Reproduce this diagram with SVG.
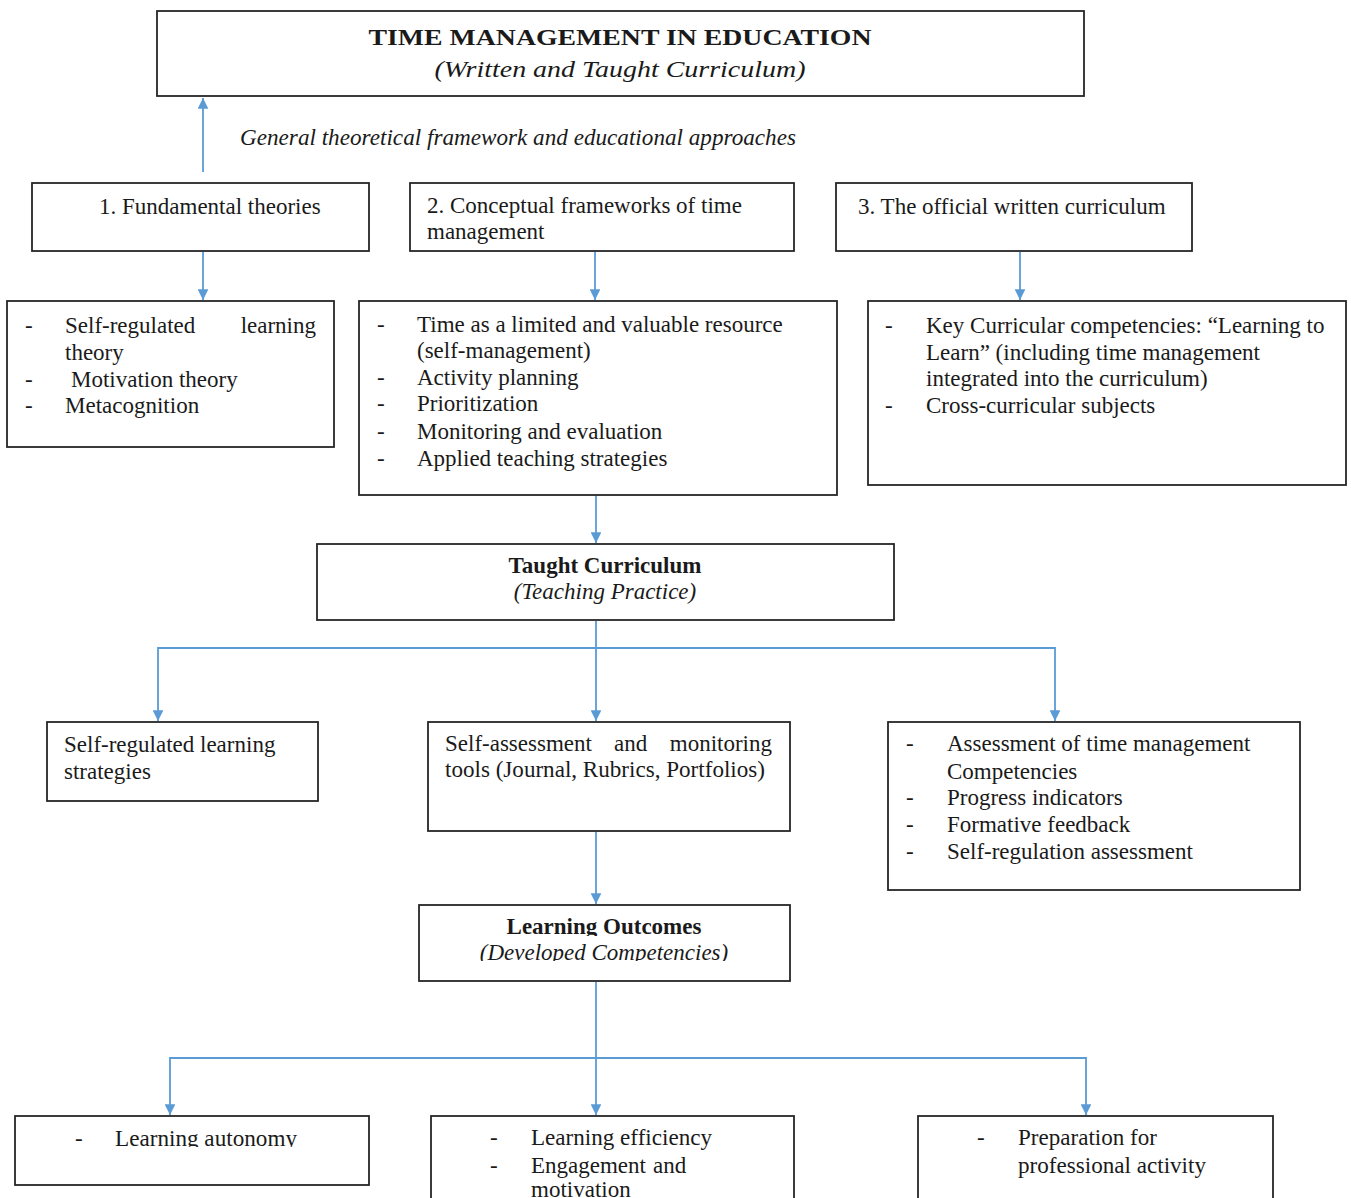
<svg xmlns="http://www.w3.org/2000/svg" width="1351" height="1198" viewBox="0 0 1351 1198">
<style>
.box{fill:#fff;stroke:#262626;stroke-width:1.8}
.t{font-family:"Liberation Serif","Times New Roman",serif;font-size:23px;fill:#1a1a1a}
.b{font-weight:bold}
.i{font-style:italic}
.c{text-anchor:middle}
.e{text-anchor:end}
.con{fill:none;stroke:#5B9BD5;stroke-width:1.8}
.arr{fill:none;stroke:#5B9BD5;stroke-width:1.8;marker-end:url(#ah)}
</style>
<defs>
<marker id="ah" viewBox="0 0 10 10" refX="10" refY="5" markerWidth="6" markerHeight="6" markerUnits="strokeWidth" orient="auto">
<path d="M0,0 L10,5 L0,10 z" fill="#5B9BD5"/>
</marker>
<clipPath id="cl1"><rect x="419" y="905" width="371" height="31"/></clipPath>
<clipPath id="cl2"><rect x="419" y="940" width="371" height="21"/></clipPath>
<clipPath id="cl3"><rect x="15" y="1116" width="354" height="31"/></clipPath>
</defs>
<rect width="1351" height="1198" fill="#fff"/>

<g id="connectors">
<line class="arr" x1="203" y1="172" x2="203" y2="98"/>
<line class="arr" x1="203" y1="252" x2="203" y2="300"/>
<line class="arr" x1="595" y1="252" x2="595" y2="300"/>
<line class="arr" x1="1020" y1="252" x2="1020" y2="300"/>
<line class="arr" x1="596" y1="496" x2="596" y2="543"/>
<line class="arr" x1="596" y1="621" x2="596" y2="721"/>
<polyline class="arr" points="596,648 158,648 158,721"/>
<polyline class="arr" points="596,648 1055,648 1055,721"/>
<line class="arr" x1="596" y1="832" x2="596" y2="904"/>
<line class="arr" x1="596" y1="982" x2="596" y2="1115"/>
<polyline class="arr" points="596,1058 170,1058 170,1115"/>
<polyline class="arr" points="596,1058 1086,1058 1086,1115"/>
</g>

<g id="title">
<rect class="box" x="157" y="11" width="927" height="85"/>
<text class="t b c" x="620" y="45" font-size="29" textLength="503" lengthAdjust="spacingAndGlyphs">TIME MANAGEMENT IN EDUCATION</text>
<text class="t i c" x="620" y="77" font-size="27" textLength="371" lengthAdjust="spacingAndGlyphs">(Written and Taught Curriculum)</text>
</g>

<g id="framework-label">
<text class="t i" x="240" y="145" font-size="22" textLength="556" lengthAdjust="spacingAndGlyphs">General theoretical framework and educational approaches</text>
</g>

<g id="n1">
<rect class="box" x="32" y="183" width="337" height="68"/>
<text class="t" x="99" y="214">1. Fundamental theories</text>
</g>

<g id="n2">
<rect class="box" x="410" y="183" width="384" height="68"/>
<text class="t" x="427" y="213">2. Conceptual frameworks of time</text>
<text class="t" x="427" y="239">management</text>
</g>

<g id="n3">
<rect class="box" x="836" y="183" width="356" height="68"/>
<text class="t" x="858" y="214">3. The official written curriculum</text>
</g>

<g id="n1a">
<rect class="box" x="7" y="301" width="327" height="146"/>
<text class="t" x="25" y="333">-</text>
<text class="t" x="65" y="333">Self-regulated</text>
<text class="t e" x="316" y="333">learning</text>
<text class="t" x="65" y="360">theory</text>
<text class="t" x="25" y="387">-</text>
<text class="t" x="71" y="387">Motivation theory</text>
<text class="t" x="25" y="413">-</text>
<text class="t" x="65" y="413">Metacognition</text>
</g>

<g id="n2a">
<rect class="box" x="359" y="301" width="478" height="194"/>
<text class="t" x="377" y="332">-</text>
<text class="t" x="417" y="332">Time as a limited and valuable resource</text>
<text class="t" x="417" y="358">(self-management)</text>
<text class="t" x="377" y="385">-</text>
<text class="t" x="417" y="385">Activity planning</text>
<text class="t" x="377" y="411">-</text>
<text class="t" x="417" y="411">Prioritization</text>
<text class="t" x="377" y="439">-</text>
<text class="t" x="417" y="439">Monitoring and evaluation</text>
<text class="t" x="377" y="466">-</text>
<text class="t" x="417" y="466">Applied teaching strategies</text>
</g>

<g id="n3a">
<rect class="box" x="868" y="301" width="478" height="184"/>
<text class="t" x="885" y="333">-</text>
<text class="t" x="926" y="333">Key Curricular competencies: “Learning to</text>
<text class="t" x="926" y="360">Learn” (including time management</text>
<text class="t" x="926" y="386">integrated into the curriculum)</text>
<text class="t" x="885" y="413">-</text>
<text class="t" x="926" y="413">Cross-curricular subjects</text>
</g>

<g id="taught">
<rect class="box" x="317" y="544" width="577" height="76"/>
<text class="t b c" x="605" y="573" font-size="22">Taught Curriculum</text>
<text class="t i c" x="605" y="599" font-size="22">(Teaching Practice)</text>
</g>

<g id="srl">
<rect class="box" x="47" y="722" width="271" height="79"/>
<text class="t" x="64" y="752" font-size="22">Self-regulated learning</text>
<text class="t" x="64" y="779" font-size="22">strategies</text>
</g>

<g id="selfassess">
<rect class="box" x="428" y="722" width="362" height="109"/>
<text class="t" x="445" y="751" font-size="22">Self-assessment</text>
<text class="t" x="614" y="751" font-size="22">and</text>
<text class="t e" x="772" y="751" font-size="22">monitoring</text>
<text class="t" x="445" y="777" font-size="22" textLength="320" lengthAdjust="spacingAndGlyphs">tools (Journal, Rubrics, Portfolios)</text>
</g>

<g id="assess">
<rect class="box" x="888" y="722" width="412" height="168"/>
<text class="t" x="906" y="751">-</text>
<text class="t" x="947" y="751">Assessment of time management</text>
<text class="t" x="947" y="779">Competencies</text>
<text class="t" x="906" y="805">-</text>
<text class="t" x="947" y="805">Progress indicators</text>
<text class="t" x="906" y="832">-</text>
<text class="t" x="947" y="832">Formative feedback</text>
<text class="t" x="906" y="859">-</text>
<text class="t" x="947" y="859">Self-regulation assessment</text>
</g>

<g id="outcomes">
<rect class="box" x="419" y="905" width="371" height="76"/>
<text class="t b c" x="604" y="934" font-size="22" clip-path="url(#cl1)">Learning Outcomes</text>
<text class="t i c" x="604" y="960" font-size="22" clip-path="url(#cl2)">(Developed Competencies)</text>
</g>

<g id="autonomy">
<rect class="box" x="15" y="1116" width="354" height="69"/>
<text class="t" x="75" y="1146" font-size="22">-</text>
<text class="t" x="115" y="1146" font-size="22" textLength="182" lengthAdjust="spacingAndGlyphs" clip-path="url(#cl3)">Learning autonomy</text>
</g>

<g id="efficiency">
<rect class="box" x="431" y="1116" width="363" height="100"/>
<text class="t" x="490" y="1145" font-size="22">-</text>
<text class="t" x="531" y="1145" font-size="22" textLength="181" lengthAdjust="spacingAndGlyphs">Learning efficiency</text>
<text class="t" x="490" y="1173" font-size="22">-</text>
<text class="t" x="531" y="1173" font-size="22">Engagement</text>
<text class="t" x="653" y="1173" font-size="22">and</text>
<text class="t" x="531" y="1197" font-size="22">motivation</text>
</g>

<g id="professional">
<rect class="box" x="918" y="1116" width="355" height="100"/>
<text class="t" x="977" y="1145" font-size="22">-</text>
<text class="t" x="1018" y="1145" font-size="22" textLength="139" lengthAdjust="spacingAndGlyphs">Preparation for</text>
<text class="t" x="1018" y="1173" font-size="22" textLength="188" lengthAdjust="spacingAndGlyphs">professional activity</text>
</g>
</svg>
